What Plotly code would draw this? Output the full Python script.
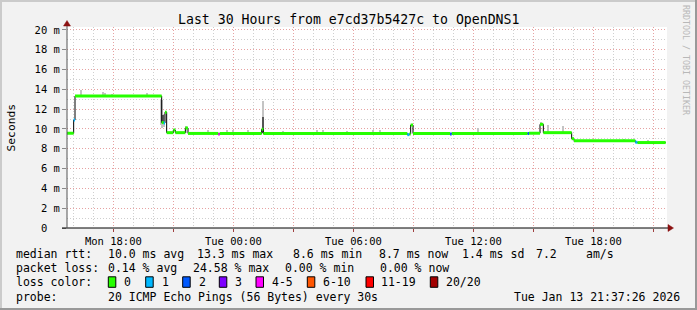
import plotly.graph_objects as go

# ---------------- data ----------------
D1 = "2026-01-12 "
D2 = "2026-01-13 "
seg_start = [D1 + t for t in ["15:41", "16:01", "16:05", "20:25", "20:31", "20:35", "20:40", "21:00",
                              "21:06", "21:36", "21:44", "23:15", "23:19"]] + \
            [D2 + t for t in ["01:25", "01:30", "08:42", "08:48", "08:52", "08:59", "10:50", "10:55",
                              "14:43", "14:47", "15:20", "15:30", "16:55", "17:02", "20:06", "20:12"]]
seg_end = seg_start[1:] + [D2 + "21:37"]
seg_ms = [9.57, 10.9, 13.33, 10.65, 10.6, 11.7, 9.63, 9.9, 9.63, 10.1, 9.55, 9.47, 9.55,
          9.97, 9.55, 9.43, 9.5, 10.4, 9.55, 9.5, 9.55, 9.55, 9.57, 10.47, 9.63, 9.02, 8.82, 8.66, 8.63]
seg_loss = [0, 1, 0, 0, 1, 0, 0, 0, 0, 0, 0, 4, 0,
            0, 0, 1, 0, 0, 0, 2, 0, 2, 0, 0, 0, 0, 0, 1, 0]

smoke_time = [D1 + t for t in ["16:22", "17:29", "17:35", "17:55", "19:40", "20:24", "20:27", "20:33",
                               "21:38", "22:44", "23:41", "23:59"]] + \
             [D2 + t for t in ["00:44", "01:28", "02:30", "04:10", "04:30", "05:40", "07:00", "07:20",
                               "12:15", "15:22", "15:45", "16:28", "19:32", "20:45"]]
smoke_lo = [13.3, 13.3, 13.3, 13.3, 13.3, 10.4, 10.1, 10.2, 9.6, 9.55, 9.55, 9.55,
            9.55, 9.6, 9.55, 9.55, 9.55, 9.55, 9.55, 9.55, 9.55, 10.5, 9.6, 9.6, 8.8, 8.6]
smoke_hi = [13.9, 13.7, 13.6, 13.5, 13.6, 12.9, 12.9, 11.5, 10.3, 9.85, 9.9, 9.85,
            9.85, 12.8, 9.8, 9.85, 9.85, 9.8, 9.85, 9.85, 10.07, 10.74, 10.4, 10.3, 9.0, 8.9]
dark_time = [D2 + "01:28", D1 + "20:28"]
dark_lo = [9.6, 10.7]
dark_hi = [11.2, 11.4]

loss_names = ["0", "1", "2", "3", "4-5", "6-10", "11-19", "20/20"]
loss_colors = ["#26ff00", "#00b8ff", "#0059ff", "#7e00ff", "#ff00ff", "#ff5500", "#ff0000", "#a10000"]

y_ticks = list(range(0, 21, 2))
y_labels = ["0\u00a0\u00a0"] + ["%d m" % v for v in y_ticks[1:]]
x_ticks = [D1 + "18:00", D1 + "21:00", D2 + "00:00", D2 + "03:00", D2 + "06:00", D2 + "09:00",
           D2 + "12:00", D2 + "15:00", D2 + "18:00", D2 + "21:00"]
x_labels = ["Mon 18:00", "", "Tue 00:00", "", "Tue 06:00", "", "Tue 12:00", "", "Tue 18:00", ""]
x_range = [D1 + "15:41", D2 + "21:41"]

title = "Last 30 Hours from e7cd37b5427c to OpenDNS1"
rtt_stats = ["10.0 ms avg", "13.3 ms max", "8.6 ms min", "8.7 ms now", "1.4 ms sd", "7.2", "am/s"]
loss_stats = ["0.14 % avg", "24.58 % max", "0.00 % min", "0.00 % now"]
probe_text = "20 ICMP Echo Pings (56 Bytes) every 30s"
stamp = "Tue Jan 13 21:37:26 2026"

# ---------------- layout helpers (pixel -> paper) ----------------
W, H = 697, 310
L, R, T, B = 67, 667, 27, 228


def px(X):
    return (X - L) / (R - L)


def py(Y):
    return (B - Y) / (B - T)


MONO = "DejaVu Sans Mono"
LEG = 11.5
fig = go.Figure()

fig.add_trace(go.Bar(x=smoke_time, y=[h - l for h, l in zip(smoke_hi, smoke_lo)], base=smoke_lo,
                     width=6 * 60 * 1000, marker=dict(color="#c4c4c4", line=dict(width=0)),
                     hoverinfo="skip"))
fig.add_trace(go.Bar(x=dark_time, y=[h - l for h, l in zip(dark_hi, dark_lo)], base=dark_lo,
                     width=4 * 60 * 1000, marker=dict(color="#555555", line=dict(width=0)),
                     hoverinfo="skip"))

fig.add_trace(go.Scatter(x=seg_start + [seg_end[-1]], y=seg_ms + [seg_ms[-1]], mode="lines",
                         line=dict(color="#000000", width=1, shape="hv"), hoverinfo="skip"))

for k, col in enumerate(loss_colors):
    xs, ys = [], []
    for s, e, v, lo in zip(seg_start, seg_end, seg_ms, seg_loss):
        if lo == k:
            xs += [s, e, None]
            ys += [v, v, None]
    if xs:
        fig.add_trace(go.Scatter(x=xs, y=ys, mode="lines", line=dict(color=col, width=3),
                                 connectgaps=False, hoverinfo="skip"))

shapes = []
# frame
shapes.append(dict(type="rect", xref="paper", yref="paper", x0=px(0), x1=px(W), y0=py(0), y1=py(2),
                   fillcolor="#cbcbcb", line=dict(width=0), layer="above"))
shapes.append(dict(type="rect", xref="paper", yref="paper", x0=px(0), x1=px(2), y0=py(0), y1=py(H),
                   fillcolor="#cbcbcb", line=dict(width=0), layer="above"))
shapes.append(dict(type="rect", xref="paper", yref="paper", x0=px(0), x1=px(W), y0=py(H - 2), y1=py(H),
                   fillcolor="#999999", line=dict(width=0), layer="above"))
shapes.append(dict(type="rect", xref="paper", yref="paper", x0=px(W - 2), x1=px(W), y0=py(0), y1=py(H),
                   fillcolor="#999999", line=dict(width=0), layer="above"))
# axes
shapes.append(dict(type="line", xref="paper", yref="paper", x0=px(62), x1=px(669), y0=0, y1=0,
                   line=dict(color="#000000", width=1), layer="above"))
shapes.append(dict(type="line", xref="paper", yref="paper", x0=0, x1=0, y0=0, y1=py(25),
                   line=dict(color="#555555", width=1), layer="above"))
shapes.append(dict(type="path", xref="paper", yref="paper",
                   path="M %f %f L %f %f L %f %f Z" % (px(673.5), py(228), px(668), py(224.5), px(668), py(231.5)),
                   fillcolor="#8b1010", line=dict(color="#8b1010", width=0.5), layer="above"))
shapes.append(dict(type="path", xref="paper", yref="paper",
                   path="M %f %f L %f %f L %f %f Z" % (px(67), py(20.5), px(63.5), py(26), px(70.5), py(26)),
                   fillcolor="#8b1010", line=dict(color="#8b1010", width=0.5), layer="above"))

ann = []


def text(X, Y, s, size=LEG, anchor="left", color="#000000"):
    ann.append(dict(x=px(X), y=py(Y), xref="paper", yref="paper", text=s, showarrow=False,
                    xanchor=anchor, yanchor="middle", font=dict(family=MONO, size=size, color=color)))


text(348, 19.5, title, size=13.2, anchor="center")
ann.append(dict(x=px(11), y=py(127.5), xref="paper", yref="paper", text="Seconds", showarrow=False,
                textangle=-90, xanchor="center", yanchor="middle",
                font=dict(family=MONO, size=11.3, color="#000000")))
ann.append(dict(x=px(686), y=py(60), xref="paper", yref="paper", text="RRDTOOL / TOBI OETIKER",
                showarrow=False, textangle=90, xanchor="center", yanchor="middle",
                font=dict(family=MONO, size=8.3, color="#b8b8b8")))

OFF = 2.0
text(16 - OFF, 254.3, "median rtt:")
for xx, s in zip([107.5, 197, 292.5, 378.5, 462, 535.5, 586], rtt_stats):
    text(xx - OFF, 254.3, s)
text(16 - OFF, 268.3, "packet loss:")
for xx, s in zip([107.5, 193, 285, 380], loss_stats):
    text(xx - OFF, 268.3, s)
text(16 - OFF, 282.3, "loss color:")
box_x = [108.3, 145.7, 182.7, 219.3, 256, 307.3, 366, 430.3]
lab_x = [124, 161.3, 198.3, 235, 271.7, 322.3, 380.3, 445.3]
for bx, lx, name, col in zip(box_x, lab_x, loss_names, loss_colors):
    shapes.append(dict(type="rect", xref="paper", yref="paper", x0=px(bx), x1=px(bx + 7.5),
                       y0=py(287.3), y1=py(276.8), fillcolor=col, line=dict(color="#000000", width=1),
                       layer="above"))
    text(lx - 1.6, 282.3, name)
text(16 - OFF, 296.7, "probe:")
text(107.5 - OFF, 296.7, probe_text)
text(682, 296.7, stamp, anchor="right")

grid_major = "#e6a2a2"
grid_minor = "#cfcfcf"
fig.update_layout(
    width=W, height=H, margin=dict(l=L, r=W - R, t=T, b=H - B, pad=0),
    paper_bgcolor="#f2f2f2", plot_bgcolor="#ffffff",
    showlegend=False, barmode="overlay", bargap=0,
    shapes=shapes, annotations=ann,
    xaxis=dict(type="date", range=x_range, tickmode="array", tickvals=x_ticks, ticktext=x_labels,
               showgrid=True, gridcolor=grid_major, griddash="1px,2px", gridwidth=1,
               ticks="outside", ticklen=3, tickcolor="#a04040", tickwidth=1,
               tickfont=dict(family=MONO, size=10.5, color="#000000"),
               minor=dict(dtick=3600000, tick0=D1 + "00:00", showgrid=True, gridcolor=grid_minor,
                          griddash="1px,2px", gridwidth=1, ticks=""),
               zeroline=False, showline=False, fixedrange=True),
    yaxis=dict(range=[0, 20.3], tickmode="array", tickvals=y_ticks, ticktext=y_labels,
               showgrid=True, gridcolor=grid_major, griddash="1px,2px", gridwidth=1,
               ticks="outside", ticklen=4, tickcolor="#888888", tickwidth=1,
               tickfont=dict(family=MONO, size=10.5, color="#000000"),
               minor=dict(dtick=1, tick0=0, showgrid=True, gridcolor=grid_minor,
                          griddash="1px,2px", gridwidth=1, ticks=""),
               zeroline=False, showline=False, fixedrange=True),
)

fig.write_html("out.html", config={"displayModeBar": False})
